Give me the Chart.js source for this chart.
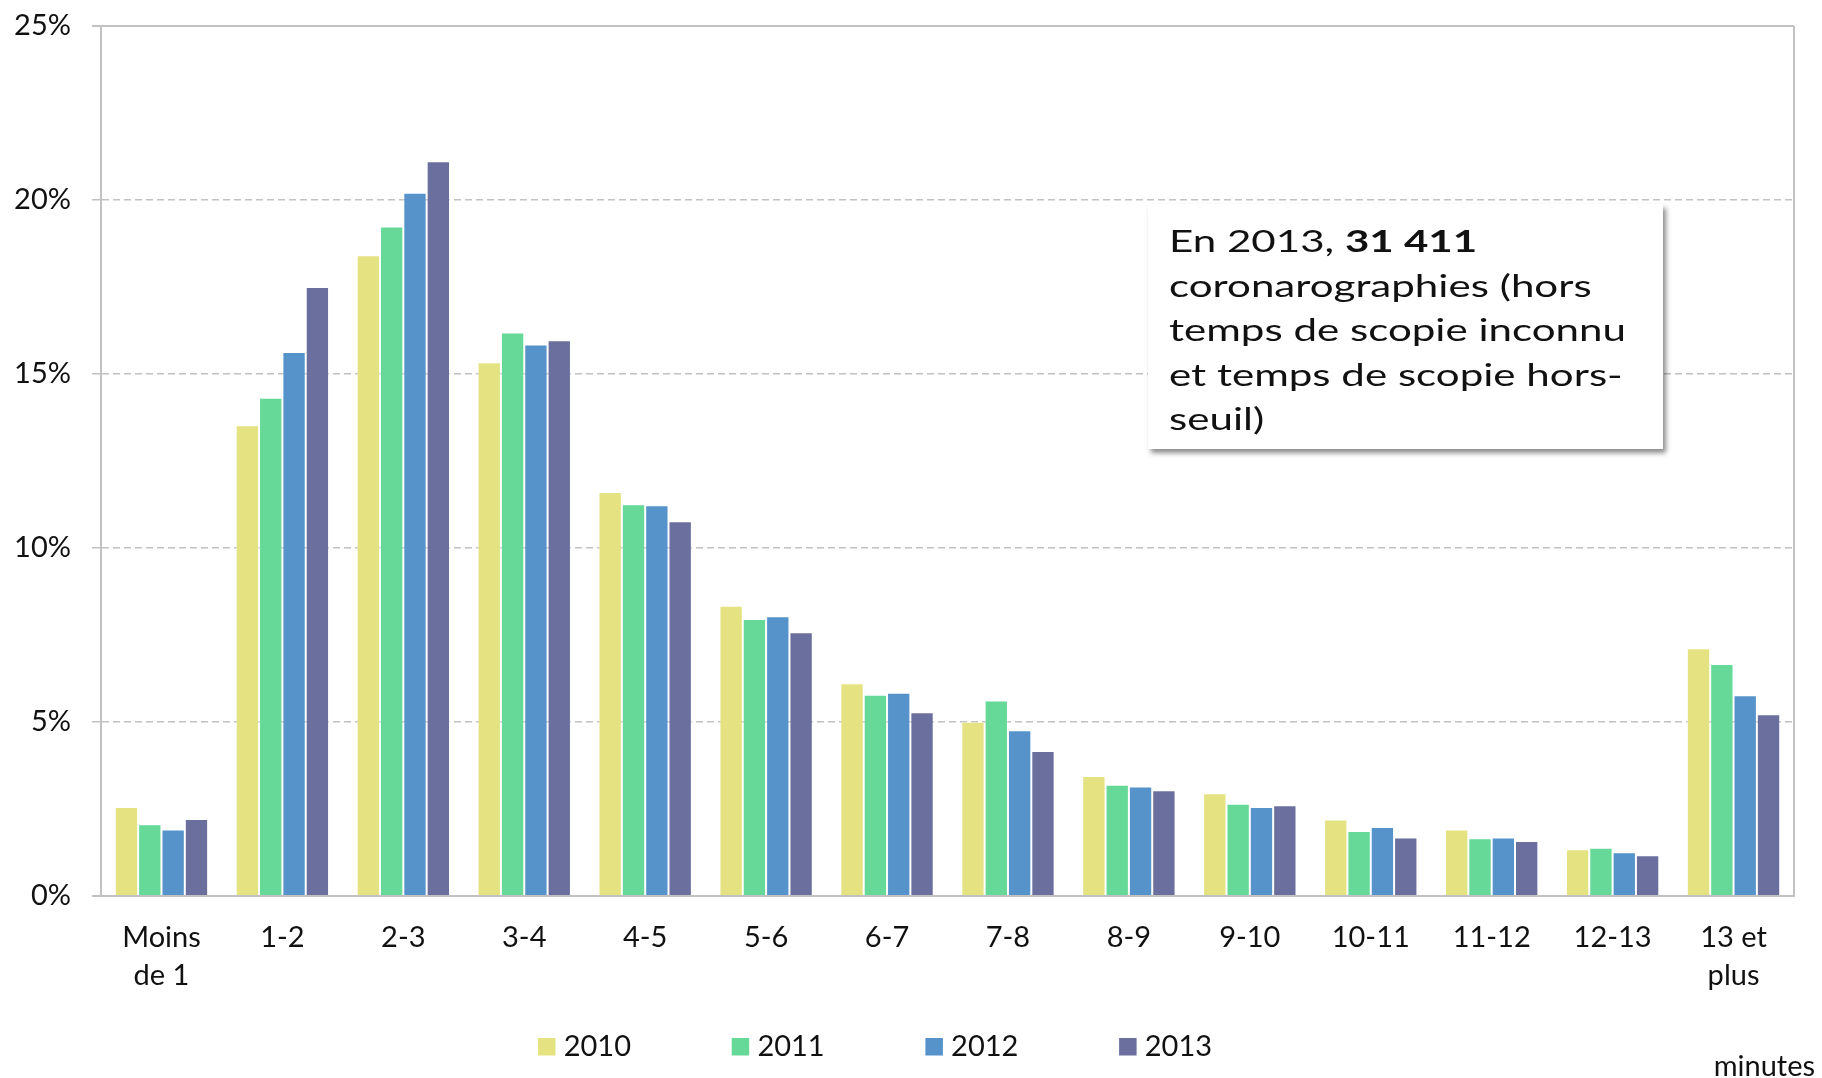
<!DOCTYPE html>
<html>
<head>
<meta charset="utf-8">
<script src="https://cdn.jsdelivr.net/npm/chart.js@4/dist/chart.umd.min.js"></script>
<style>
html,body{margin:0;padding:0;background:#ffffff;}
#wrap{width:1822px;height:1078px;position:relative;}
</style>
</head>
<body>
<div id="wrap"><canvas id="c" width="1822" height="1078"></canvas></div>
<script>
// ---- data ----
const categories = [['Moins','de 1'],'1-2','2-3','3-4','4-5','5-6','6-7','7-8','8-9','9-10','10-11','11-12','12-13',['13 et','plus']];
const years = ['2010','2011','2012','2013'];
const values2010 = [2.56,13.53,18.41,15.34,11.61,8.34,6.11,5.01,3.45,2.95,2.20,1.91,1.34,7.12];
const values2011 = [2.06,14.32,19.24,16.19,11.26,7.96,5.78,5.62,3.20,2.65,1.87,1.66,1.39,6.67];
const values2012 = [1.91,15.63,20.21,15.85,11.23,8.04,5.84,4.76,3.15,2.56,1.98,1.68,1.26,5.77];
const values2013 = [2.21,17.50,21.11,15.97,10.77,7.58,5.28,4.17,3.04,2.61,1.68,1.58,1.17,5.22];
const yTicks = [0,5,10,15,20,25];
const annotationLines = [
  [{t:'En 2013, ', b:false},{t:'31 411', b:true}],
  [{t:'coronarographies (hors', b:false}],
  [{t:'temps de scopie inconnu', b:false}],
  [{t:'et temps de scopie hors-', b:false}],
  [{t:'seuil)', b:false}]
];
const unitLabel = 'minutes';

// ---- styles ----
const seriesValues = [values2010, values2011, values2012, values2013];
const colors = ['#E5E381','#66D998','#5593CA','#6B6F9E'];
const FONT = 'Lato, "Open Sans", sans-serif';
const GRID = '#c2c2c2';
const TEXT = '#111111';

const legendPlugin = {
  id: 'customLegend',
  afterDraw(chart) {
    const ctx = chart.ctx;
    ctx.save();
    ctx.font = '29px ' + FONT;
    ctx.textBaseline = 'middle';
    ctx.textAlign = 'left';
    chart.data.datasets.forEach((ds, i) => {
      const x = 538 + i * 193.7;
      ctx.fillStyle = ds.backgroundColor;
      ctx.fillRect(x, 1038, 17.5, 17.5);
      ctx.fillStyle = TEXT;
      ctx.fillText(ds.label, x + 25.7, 1047);
    });
    ctx.textAlign = 'right';
    ctx.textBaseline = 'alphabetic';
    ctx.fillText(unitLabel, 1815, 1076);
    ctx.restore();
  }
};

const annotationPlugin = {
  id: 'note',
  afterDraw(chart) {
    const ctx = chart.ctx;
    const bx = 1148, by = 204, bw = 515, bh = 245;
    ctx.save();
    ctx.shadowColor = 'rgba(0,0,0,0.45)';
    ctx.shadowBlur = 5;
    ctx.shadowOffsetX = 3;
    ctx.shadowOffsetY = 4;
    ctx.fillStyle = '#ffffff';
    ctx.fillRect(bx, by, bw, bh);
    ctx.restore();

    ctx.save();
    ctx.fillStyle = TEXT;
    ctx.textBaseline = 'alphabetic';
    ctx.textAlign = 'left';
    const size = 31;
    ctx.font = size + 'px ' + FONT;
    // the reference face is wide: stretch horizontally so the widest line matches
    const ref = 'temps de scopie inconnu';
    const w0 = ctx.measureText(ref).width;
    let sx = 457 / w0;
    sx = Math.max(1, Math.min(sx, 1.4));
    const x0 = 1169;
    ctx.translate(x0, 0);
    ctx.scale(sx, 1);
    annotationLines.forEach((segs, li) => {
      let x = 0;
      const y = 252 + li * 44.5;
      segs.forEach(s => {
        ctx.font = (s.b ? 'bold ' : '') + size + 'px ' + FONT;
        ctx.fillText(s.t, x, y);
        x += ctx.measureText(s.t).width;
      });
    });
    ctx.restore();
  }
};

const chart = new Chart(document.getElementById('c'), {
  type: 'bar',
  data: {
    labels: categories,
    datasets: years.map((y, i) => ({
      label: y,
      data: seriesValues[i],
      backgroundColor: colors[i],
      borderColor: 'rgba(255,255,255,0.35)',
      borderWidth: 1,
      categoryPercentage: 0.772,
      barPercentage: 1.0
    }))
  },
  options: {
    responsive: false,
    animation: false,
    devicePixelRatio: 1,
    layout: { padding: { top: 26, right: 28, bottom: 82, left: 0 } },
    plugins: {
      legend: { display: false },
      tooltip: { enabled: false },
      title: { display: false }
    },
    scales: {
      x: {
        offset: true,
        grid: {
          display: true,
          offset: true,
          drawTicks: false,
          drawOnChartArea: true,
          lineWidth: 2,
          color: (c) => (c.type === 'scale' ? GRID : 'rgba(0,0,0,0)')
        },
        border: { display: true, color: GRID, width: 2 },
        ticks: {
          font: { family: FONT, size: 29, lineHeight: 1.3 },
          color: TEXT,
          padding: 23,
          maxRotation: 0,
          autoSkip: false
        },
        afterFit: (s) => { s.height = 100; s.paddingLeft = 0; s.paddingRight = 0; }
      },
      y: {
        min: 0,
        max: 25,
        afterBuildTicks: (s) => { s.ticks = yTicks.map(v => ({ value: v })); },
        grid: {
          color: GRID,
          lineWidth: (c) => (c.tick && (c.tick.value === 0 || c.tick.value === 25)) ? 2 : 1.5,
          drawTicks: true,
          tickLength: 9
        },
        border: {
          display: true,
          color: GRID,
          width: 2,
          dash: (c) => (c.tick && (c.tick.value === 0 || c.tick.value === 25)) ? [] : [7, 4]
        },
        ticks: {
          callback: (v) => v + '%',
          font: { family: FONT, size: 29 },
          color: TEXT,
          padding: 21
        },
        afterFit: (s) => { s.width = 101; s.paddingTop = 0; s.paddingBottom = 0; }
      }
    }
  },
  plugins: [annotationPlugin, legendPlugin]
});
</script>
</body>
</html>
